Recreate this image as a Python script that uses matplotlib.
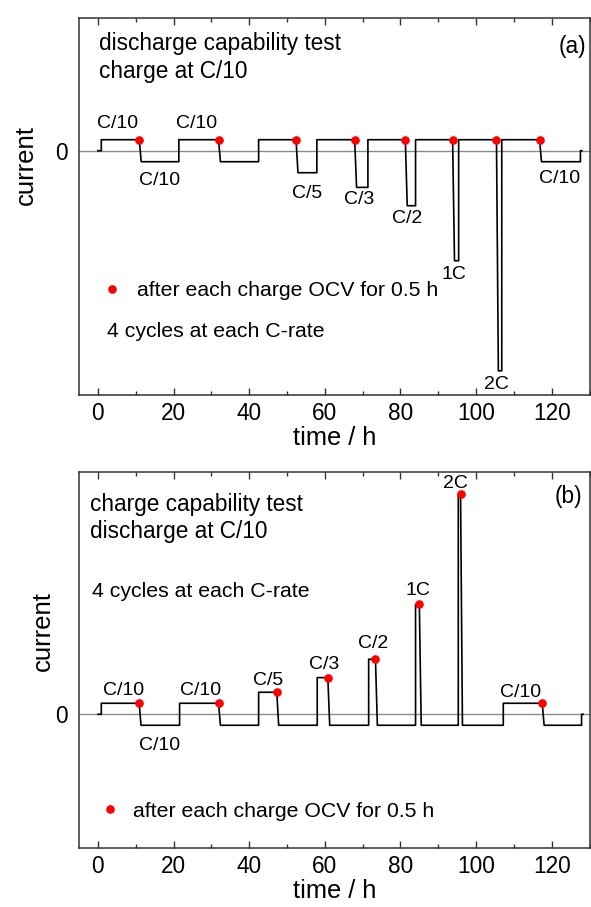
"""
Schematic current profiles for the discharge (a) and charge (b) capability tests.
Renders out.png (591 x 907 px).
"""
import matplotlib
matplotlib.use('Agg')
import matplotlib.pyplot as plt
from matplotlib.ticker import MultipleLocator, FixedLocator

plt.rcParams['font.family'] = ['Liberation Sans', 'DejaVu Sans']

OCV = 0.5          # h rest after each charge
BASE = 0.1         # C/10 in units of C

# ---- (a) discharge capability: charge at C/10, discharge at rate ----
a_dis_rate = [0.1, 0.1, 0.2, 1/3, 0.5, 1.0, 2.0, 0.1]
a_chg_start = [0.9, 21.4, 42.5, 57.9, 71.4, 84.0, 95.4, 106.8]
a_ocv_dot = [10.95, 31.9, 52.4, 67.9, 81.3, 93.8, 105.4, 116.8]
a_end = 127.6

# ---- (b) charge capability: charge at rate, discharge at C/10 ----
b_chg_rate = [0.1, 0.1, 0.2, 1/3, 0.5, 1.0, 2.0, 0.1]
b_chg_start = [0.9, 21.6, 42.5, 58.0, 71.6, 84.0, 95.3, 107.2]
b_ocv_dot = [10.9, 31.9, 47.3, 60.8, 73.4, 85.0, 95.9, 117.5]
b_end = 127.9

# rate labels (text, time, current)
a_lbl_s = ['C/10', 'C/10', 'C/10', 'C/5', 'C/3', 'C/2', '1C', '2C', 'C/10']
a_lbl_x = [5.2, 26.0, 16.3, 55.4, 69.2, 81.9, 94.2, 105.3, 122.0]
a_lbl_y = [0.21, 0.21, -0.312, -0.43, -0.485, -0.66, -1.17, -2.17, -0.297]
b_lbl_s = ['C/10', 'C/10', 'C/10', 'C/5', 'C/3', 'C/2', '1C', '2C', 'C/10']
b_lbl_x = [6.8, 27.2, 16.3, 45.0, 59.7, 72.7, 84.6, 94.6, 111.9]
b_lbl_y = [0.175, 0.175, -0.324, 0.267, 0.412, 0.603, 1.085, 2.053, 0.16]


def profile(starts, dots, chg, dis, end):
    t, y = [0, starts[0]], [0, 0]
    n = len(starts)
    for k in range(n):
        t += [starts[k], dots[k]]
        y += [chg[k], chg[k]]
        d_end = starts[k + 1] if k + 1 < n else end
        t += [dots[k] + OCV, d_end]
        y += [-dis[k], -dis[k]]
    t += [end, end + 0.4]
    y += [0, 0]
    return t, y


fig = plt.figure(figsize=(5.91, 9.07), dpi=100)
axA = fig.add_axes([79/591, 1 - 395/907, 510.5/591, 377/907])
axB = fig.add_axes([79/591, 1 - 847.7/907, 510.5/591, 376/907])

LBL = 14
TXT = 15.3
HDR = 16.3
MS = 5.2

for ax in (axA, axB):
    ax.axhline(0, color='#8a8a8a', lw=1.0, zorder=1)
    ax.set_xlim(-5, 130)
    ax.xaxis.set_major_locator(MultipleLocator(20))
    ax.xaxis.set_minor_locator(MultipleLocator(10))
    ax.set_xticks(range(0, 121, 20))
    ax.tick_params(axis='x', which='both', direction='in', top=True,
                   color='#333333', width=1.0, labelsize=HDR, pad=5)
    ax.tick_params(axis='x', which='major', length=5)
    ax.tick_params(axis='x', which='minor', length=3.2)
    ax.yaxis.set_major_locator(FixedLocator([0]))
    ax.set_yticklabels(['0'])
    ax.tick_params(axis='y', length=0, labelsize=HDR, pad=8)
    for s in ax.spines.values():
        s.set_color('#333333')
        s.set_linewidth(1.1)
    ax.set_xlabel('time / h', fontsize=18.3, labelpad=1)
    ax.set_ylabel('current', fontsize=18.5)

# (a)
tA, yA = profile(a_chg_start, a_ocv_dot, [BASE] * 8, a_dis_rate, a_end)
axA.plot(tA, yA, color='black', lw=1.2, zorder=2)
axA.plot(a_ocv_dot, [BASE] * 8, 'o', color='#ff0000', ms=MS, zorder=3,
         label='after each charge OCV for 0.5 h')
axA.set_ylim(-2.22, 1.206)
axA.yaxis.set_label_coords(-0.080, 0.61)

for s, x, y in zip(a_lbl_s, a_lbl_x, a_lbl_y):
    axA.text(x, y, s, ha='center', va='baseline', fontsize=LBL)

axA.text(0.26, 0.915, 'discharge capability test', fontsize=HDR, va='baseline')
axA.text(0.26, 0.66, 'charge at C/10', fontsize=HDR, va='baseline')
axA.text(129.2, 0.884, '(a)', fontsize=HDR, va='baseline', ha='right')
axA.text(2.5, -1.69, '4 cycles at each C-rate', fontsize=TXT, va='baseline')
axA.legend(loc='center left', bbox_to_anchor=(0.0486, 0.276), frameon=False,
           fontsize=TXT, handlelength=0.8, handletextpad=0.75, borderpad=0,
           borderaxespad=0, numpoints=1)

# (b)
tB, yB = profile(b_chg_start, b_ocv_dot, b_chg_rate, [BASE] * 8, b_end)
axB.plot(tB, yB, color='black', lw=1.2, zorder=2)
axB.plot(b_ocv_dot, b_chg_rate, 'o', color='#ff0000', ms=MS, zorder=3,
         label='after each charge OCV for 0.5 h')
axB.set_ylim(-1.213, 2.205)
axB.yaxis.set_label_coords(-0.047, 0.576)

for s, x, y in zip(b_lbl_s, b_lbl_x, b_lbl_y):
    axB.text(x, y, s, ha='center', va='baseline', fontsize=LBL)

axB.text(-2.2, 1.845, 'charge capability test', fontsize=HDR, va='baseline')
axB.text(-2.2, 1.605, 'discharge at C/10', fontsize=HDR, va='baseline')
axB.text(128.2, 1.917, '(b)', fontsize=HDR, va='baseline', ha='right')
axB.text(-1.6, 1.07, '4 cycles at each C-rate', fontsize=TXT, va='baseline')
axB.legend(loc='center left', bbox_to_anchor=(0.0441, 0.0976), frameon=False,
           fontsize=TXT, handlelength=0.8, handletextpad=0.70, borderpad=0,
           borderaxespad=0, numpoints=1)

fig.savefig('out.png', dpi=100, facecolor='white')
